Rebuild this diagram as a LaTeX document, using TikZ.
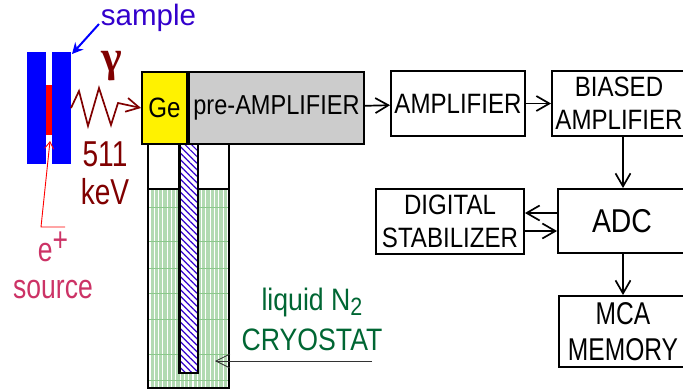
\documentclass[tikz,border=0pt]{standalone}
\usepackage{fontspec}
\setmainfont[FakeStretch=0.86]{Liberation Sans}
\newfontfamily\gammafont{Liberation Serif}
\newfontfamily\widefont{Liberation Sans}
\newfontfamily\tallfont[FakeStretch=0.78]{Liberation Sans}
\usetikzlibrary{patterns.meta,arrows.meta}
\definecolor{sampleblue}{RGB}{0,0,255}
\definecolor{labelblue}{RGB}{51,0,204}
\definecolor{darkred}{RGB}{128,0,0}
\definecolor{pinkred}{RGB}{204,51,102}
\definecolor{cryogreen}{RGB}{0,102,51}
\definecolor{nitrogen}{RGB}{178,218,178}
\definecolor{levelgreen}{RGB}{140,200,140}
\tikzset{
    box/.style={draw=black,line width=1.9pt,fill=white,inner sep=0pt,align=center,font=\fontsize{28}{33}\selectfont},
    flow/.style={line width=1.7pt,-{Straight Barb[length=13pt,width=15pt,line width=1.7pt]}},
    txt/.style={inner sep=0pt,align=center}
}
\begin{document}
\begin{tikzpicture}[x=1pt,y=-1pt]
    \useasboundingbox (0,0)rectangle(683,389);
    \clip (0,0)rectangle(683,389);
    % source and sample
    \fill[sampleblue] (27,52)rectangle(46,164);
    \fill[sampleblue] (52,52)rectangle(71,164);
    \fill[red] (46,85)rectangle(52,135);
    \coordinate (sampleedge) at (72,54);
    \coordinate (sourcetip) at (50,141);
    \coordinate (sourcefoot) at (41,227);
    \coordinate (sourceend) at (65,227);
    % cryostat
    \draw[line width=2pt] (148,144)rectangle(229,189);
    \fill[nitrogen] (148,189)rectangle(229,388);
    \foreach \u in {150,154.3,...,229}{
            \draw[white,line width=1.1pt] (\u,189)--(\u,388);
        }
    \foreach \v in {207,241,268,293,319,354,380}{
            \draw[levelgreen,line width=0.5pt] (148,\v)--(229,\v);
        }
    \draw[line width=2pt] (148,189)rectangle(229,388);
    \fill[white] (179.5,144)rectangle(198,373);
    \draw[pattern={Lines[angle=-45,distance=4.6pt,line width=1.2pt]},pattern color=labelblue,line width=2.2pt] (179.5,144)rectangle(198,373);
    % detector
    \node[box,fill=yellow,minimum width=45pt,minimum height=72pt] (ge) at (164.5,108) {Ge};
    \node[box,fill=black!20,minimum width=175pt,minimum height=72pt,font=\fontsize{27.4}{33}\selectfont] (preamp) at (276.5,108) {pre-AMPLIFIER};
    % electronics
    \node[box,minimum width=134pt,minimum height=65pt] (amp) at (458,103.5) {AMPLIFIER};
    \node[box,minimum width=134pt,minimum height=65pt] (biased) at (619,103.5) {BIASED\\AMPLIFIER};
    \node[box,minimum width=128pt,minimum height=64pt] (adc) at (622,221) {\fontsize{33}{33}\selectfont ADC};
    \node[box,minimum width=148pt,minimum height=65pt] (stab) at (450,221.5) {DIGITAL\\STABILIZER};
    \node[box,minimum width=128pt,minimum height=71pt,font=\tallfont\fontsize{31.5}{36}\selectfont] (mca) at (623,331.5) {MCA\\MEMORY};
    \draw[flow] (preamp)--(amp);
    \draw[flow] (amp)--(biased);
    \draw[flow] (biased.south-|623,0)--(adc.north-|623,0);
    \draw[flow] (adc.west|-0,213)--(stab.east|-0,213);
    \draw[flow] (stab.east|-0,231)--(adc.west|-0,231);
    \draw[flow] (adc.south-|623,0)--(mca.north-|623,0);
    % labels
    \node[txt,anchor=base,text=labelblue,font=\widefont\fontsize{29.5}{29}\selectfont] (samplelabel) at (148.5,25) {sample};
    \draw[sampleblue,line width=2pt,-{Stealth[length=11pt,width=11pt]}] (99,24)--(sampleedge);
    \node[txt,text=darkred,font=\gammafont\bfseries\fontsize{44}{44}\selectfont] (gamma) at (112,66) {γ};
    \node[txt,text=darkred,font=\tallfont\fontsize{36}{38}\selectfont] (energy) at (105,173) {511\\keV};
    \coordinate (waveend) at (ge.west);
    \draw[darkred,line width=1.7pt,-{Straight Barb[length=13pt,width=14pt,line width=1.7pt]}] (71,108)--(79,91)--(88,126)--(99,88)--(111,125)--(118,103)--(waveend);
    \node[txt,text=pinkred,font=\tallfont\fontsize{34}{37}\selectfont] (source) at (53,265) {e\raisebox{10pt}{+}\\source};
    \draw[red,line width=0.9pt,-{Straight Barb[length=7pt,width=9pt]}] (sourceend)--(sourcefoot)--(sourcetip);
    \node[txt,text=cryogreen,font=\fontsize{31}{40}\selectfont] (cryolabel) at (312,319) {liquid N\raisebox{-5pt}{\fontsize{25}{25}\selectfont 2}\\CRYOSTAT};
    \coordinate (cryotip) at (215,361);
    \coordinate (cryotail) at (372,361);
    \draw[black!80,line width=0.8pt,-{Straight Barb[length=14pt,width=14pt]}] (cryotail)--(cryotip);
\end{tikzpicture}
\end{document}
